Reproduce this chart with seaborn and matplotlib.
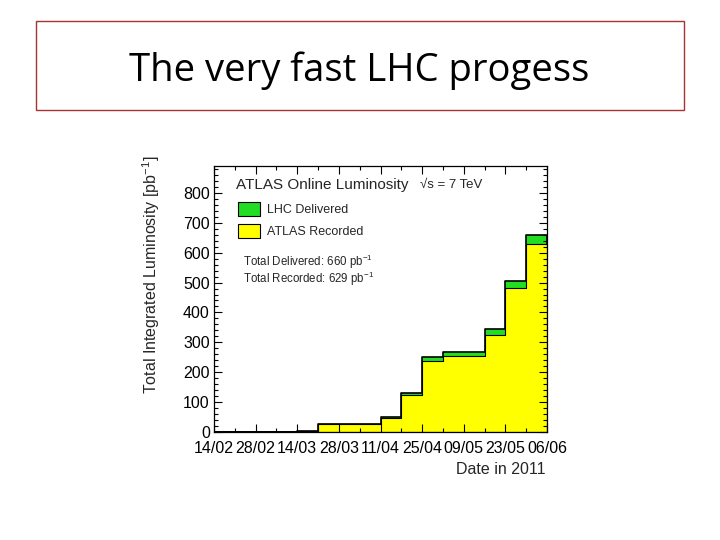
import numpy as np
import pandas as pd
import matplotlib
matplotlib.use("Agg")
import matplotlib.pyplot as plt
from matplotlib.patches import Rectangle
from matplotlib.ticker import MultipleLocator, FixedLocator
import seaborn as sns

# ---- data (weekly bins starting 14/02/2011, cumulative pb^-1) ----
week_start_days = [0, 7, 14, 21, 28, 35, 42, 49, 56, 63, 70, 77, 84, 91, 98, 105]
delivered = [1, 1, 1, 1, 4, 28, 28, 28, 51, 132, 250, 267, 267, 343, 504, 659]
recorded = [1, 1, 1, 1, 3, 26, 26, 26, 48, 123, 236, 253, 253, 323, 481, 629]
tick_labels = ["14/02", "28/02", "14/03", "28/03", "11/04", "25/04", "09/05", "23/05", "06/06"]

df = pd.DataFrame({"day": week_start_days, "delivered": delivered, "recorded": recorded})

sns.set_theme(style="ticks")
plt.rcParams["font.family"] = ["Liberation Sans", "DejaVu Sans"]
plt.rcParams["mathtext.fontset"] = "custom"
plt.rcParams["mathtext.rm"] = "Liberation Sans"
plt.rcParams["mathtext.it"] = "Liberation Sans:italic"
plt.rcParams["mathtext.bf"] = "Liberation Sans:bold"

fig = plt.figure(figsize=(7.2, 5.4), dpi=100)
fig.patch.set_facecolor("white")

# title box
fig.patches.append(Rectangle((36/720, 1-110/540), 648/720, 89/540, transform=fig.transFigure,
                             fill=False, edgecolor="#a83232", linewidth=1.0))
fig.text(359/720, 1-81/540, "The very fast LHC progess", ha="center", va="baseline",
         fontsize=27.5, family=["Open Sans", "DejaVu Sans"], color="black")

ax = fig.add_axes([214/720, 1-432/540, 333/720, 266/540])
ax.set_facecolor("white")

edges = list(range(0, 113, 7))
green = "#22dd22"
yellow = "#ffff00"
sns.histplot(data=df, x="day", weights="delivered", bins=edges, element="step", fill=True,
             color=green, alpha=1, edgecolor="black", linewidth=1.2, ax=ax)
sns.histplot(data=df, x="day", weights="recorded", bins=edges, element="step", fill=True,
             color=yellow, alpha=1, edgecolor="black", linewidth=0.8, ax=ax)

ax.set_xlim(0, 112)
ax.set_ylim(0, 890)
ax.xaxis.set_major_locator(FixedLocator(list(range(0, 113, 14))))
ax.set_xticklabels(tick_labels)
ax.xaxis.set_minor_locator(MultipleLocator(7))
ax.yaxis.set_major_locator(MultipleLocator(100))
ax.yaxis.set_minor_locator(MultipleLocator(20))
ax.tick_params(which="both", direction="in", top=True, right=True, colors="black",
               labelsize=11.5)
ax.tick_params(axis="x", which="major", pad=6.5)
ax.tick_params(axis="y", which="major", pad=3)
ax.tick_params(which="major", length=5.5, width=0.8)
ax.tick_params(which="minor", length=2.8, width=0.8)
for s in ax.spines.values():
    s.set_color("black")
    s.set_linewidth(0.9)
    s.set_visible(True)
ax.set_axisbelow(False)

ax.set_xlabel("")
ax.set_ylabel("Total Integrated Luminosity [pb$^{-1}$]", fontsize=11.5, labelpad=4)
ax.yaxis.set_label_coords(-0.155, 0.59)
fig.text(546/720, 1-470/540, "Date in 2011", ha="right", va="center", fontsize=11.5)

# legend-like annotations
fig.text(236/720, 1-185/540, "ATLAS Online Luminosity", ha="left", va="center", fontsize=11)
fig.text(420/720, 1-185/540, "√s = 7 TeV", ha="left", va="center", fontsize=9.5)
fig.patches.append(Rectangle((238/720, 1-216/540), 22/720, 14/540, transform=fig.transFigure,
                             facecolor=green, edgecolor="black", linewidth=0.8))
fig.patches.append(Rectangle((238/720, 1-238/540), 22/720, 14/540, transform=fig.transFigure,
                             facecolor=yellow, edgecolor="black", linewidth=0.8))
fig.text(267/720, 1-210/540, "LHC Delivered", ha="left", va="center", fontsize=9)
fig.text(267/720, 1-232/540, "ATLAS Recorded", ha="left", va="center", fontsize=9)
fig.text(243/720, 1-262/540, "Total Delivered: 660 pb$^{-1}$", ha="left", va="center", fontsize=8.3)
fig.text(243/720, 1-279/540, "Total Recorded: 629 pb$^{-1}$", ha="left", va="center", fontsize=8.3)

fig.savefig("out.png", dpi=100, facecolor="white")
